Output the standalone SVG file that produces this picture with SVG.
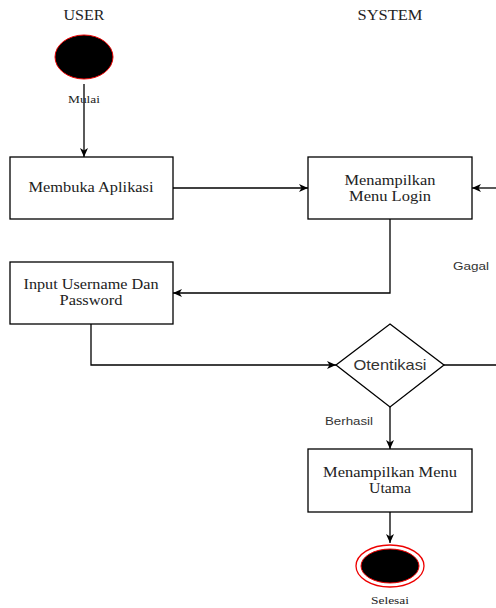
<svg xmlns="http://www.w3.org/2000/svg" width="496" height="608" viewBox="0 0 496 608">
<defs>
<marker id="ah" markerWidth="10" markerHeight="10" refX="9" refY="5" orient="auto" markerUnits="userSpaceOnUse">
<path d="M0,1 L9,5 L0,9 L2.5,5 Z" fill="#000"/>
</marker>
<style>
.box{fill:#fff;stroke:#000;stroke-width:1.3}
.ser{font-family:"Liberation Serif",serif;font-size:15px;fill:#222;text-anchor:middle}
.sm{font-family:"Liberation Serif",serif;font-size:11px;fill:#222;text-anchor:middle}
.sans{font-family:"Liberation Sans",Arial,sans-serif;fill:#333;text-anchor:middle}
.ln{fill:none;stroke:#000;stroke-width:1.3;marker-end:url(#ah)}
.ln2{fill:none;stroke:#000;stroke-width:1.3}
</style>
</defs>
<rect width="496" height="608" fill="#fff"/>
<text class="ser" x="84" y="20" textLength="41" lengthAdjust="spacingAndGlyphs">USER</text>
<text class="ser" x="390" y="20" textLength="65" lengthAdjust="spacingAndGlyphs">SYSTEM</text>
<g id="connectors">
<path class="ln" d="M84,84 L84,157"/>
<path class="ln" d="M173,188 L308,188"/>
<path class="ln" d="M496,188 L472,188"/>
<path class="ln" d="M390,219 L390,293 L173,293"/>
<path class="ln" d="M91,324 L91,365 L336,365"/>
<path class="ln2" d="M444,365 L496,365"/>
<path class="ln" d="M390,407 L390,449"/>
<path class="ln" d="M390,512 L390,543"/>
</g>
<g id="start">
<ellipse cx="84" cy="57" rx="29" ry="22" fill="#000" stroke="#e00" stroke-width="1"/>
<text class="sm" x="84" y="103" textLength="32" lengthAdjust="spacingAndGlyphs">Mulai</text>
</g>
<g id="membuka">
<rect class="box" x="10" y="157" width="163" height="62"/>
<text class="ser" x="91" y="192" textLength="125" lengthAdjust="spacingAndGlyphs">Membuka Aplikasi</text>
</g>
<g id="menu-login">
<rect class="box" x="308" y="157" width="164" height="62"/>
<text class="ser" x="390" y="185" textLength="91" lengthAdjust="spacingAndGlyphs">Menampilkan</text>
<text class="ser" x="390" y="201" textLength="82" lengthAdjust="spacingAndGlyphs">Menu Login</text>
</g>
<g id="input">
<rect class="box" x="10" y="262" width="163" height="62"/>
<text class="ser" x="91" y="289" textLength="135" lengthAdjust="spacingAndGlyphs">Input Username Dan</text>
<text class="ser" x="91" y="305" textLength="63" lengthAdjust="spacingAndGlyphs">Password</text>
</g>
<g id="otentikasi">
<polygon points="390,324 444,365 390,407 336,365" fill="#fff" stroke="#000" stroke-width="1.3"/>
<text class="sans" x="390" y="370" font-size="15" textLength="73" lengthAdjust="spacingAndGlyphs">Otentikasi</text>
</g>
<text class="sans" x="471" y="270" font-size="11" textLength="36" lengthAdjust="spacingAndGlyphs">Gagal</text>
<text class="sans" x="349" y="425" font-size="11" textLength="48" lengthAdjust="spacingAndGlyphs">Berhasil</text>
<g id="menu-utama">
<rect class="box" x="308" y="449" width="164" height="63"/>
<text class="ser" x="390" y="477" textLength="134" lengthAdjust="spacingAndGlyphs">Menampilkan Menu</text>
<text class="ser" x="390" y="493" textLength="42" lengthAdjust="spacingAndGlyphs">Utama</text>
</g>
<g id="end">
<ellipse cx="390" cy="566" rx="34" ry="21" fill="#fff" stroke="#e00" stroke-width="1.3"/>
<ellipse cx="390" cy="566" rx="29" ry="17" fill="#000" stroke="#e00" stroke-width="1"/>
<text class="sm" x="390" y="604" textLength="38" lengthAdjust="spacingAndGlyphs">Selesai</text>
</g>
</svg>
